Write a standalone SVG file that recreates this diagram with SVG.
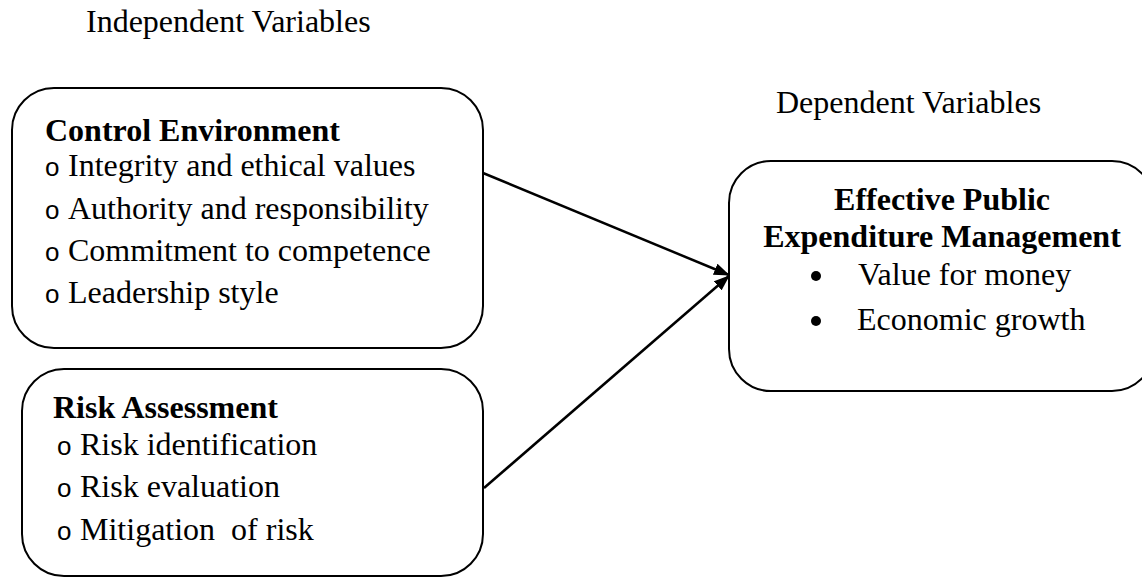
<svg xmlns="http://www.w3.org/2000/svg" width="1142" height="577" viewBox="0 0 1142 577">
<defs>
<style>
.box{fill:#fff;stroke:#000;stroke-width:2}
.t{font-family:"Liberation Serif","Times New Roman",serif;font-size:32px;fill:#000}
.b{font-weight:bold}
.o{font-family:"Liberation Sans",Arial,sans-serif;font-size:26px;fill:#000}
.conn{stroke:#000;stroke-width:2.5;fill:none}
</style>
<marker id="ah" viewBox="0 0 16 12" refX="15" refY="6" markerWidth="16" markerHeight="12" markerUnits="userSpaceOnUse" orient="auto">
<path d="M0,0 L16,6 L0,12 Z" fill="#000"/>
</marker>
</defs>
<rect width="1142" height="577" fill="#fff"/>
<text class="t" x="86" y="32">Independent Variables</text>
<text class="t" x="776" y="113">Dependent Variables</text>
<g id="control-environment">
<rect class="box" x="12" y="88" width="471" height="260" rx="42" ry="42"/>
<text class="t b" x="45" y="141">Control Environment</text>
<text class="o" x="45" y="176">o</text><text class="t" x="68" y="176">Integrity and ethical values</text>
<text class="o" x="45" y="219">o</text><text class="t" x="68" y="219">Authority and responsibility</text>
<text class="o" x="45" y="261">o</text><text class="t" x="68" y="261">Commitment to competence</text>
<text class="o" x="45" y="303">o</text><text class="t" x="68" y="303">Leadership style</text>
</g>
<g id="risk-assessment">
<rect class="box" x="22" y="369" width="461" height="207" rx="42" ry="42"/>
<text class="t b" x="53" y="418">Risk Assessment</text>
<text class="o" x="57" y="455">o</text><text class="t" x="80" y="455">Risk identification</text>
<text class="o" x="57" y="497">o</text><text class="t" x="80" y="497">Risk evaluation</text>
<text class="o" x="57" y="540">o</text><text class="t" x="80" y="540" xml:space="preserve">Mitigation  of risk</text>
</g>
<g id="effective-pem">
<rect class="box" x="729" y="161" width="425" height="230" rx="42" ry="42"/>
<text class="t b" x="942" y="210" text-anchor="middle">Effective Public</text>
<text class="t b" x="942" y="247" text-anchor="middle">Expenditure Management</text>
<circle cx="816" cy="276" r="5"/>
<text class="t" x="858" y="285">Value for money</text>
<circle cx="816" cy="321" r="5"/>
<text class="t" x="857" y="330">Economic growth</text>
</g>
<g id="connectors">
<line class="conn" x1="483" y1="173" x2="729" y2="275" marker-end="url(#ah)"/>
<line class="conn" x1="484" y1="488" x2="729" y2="276" marker-end="url(#ah)"/>
</g>
</svg>
